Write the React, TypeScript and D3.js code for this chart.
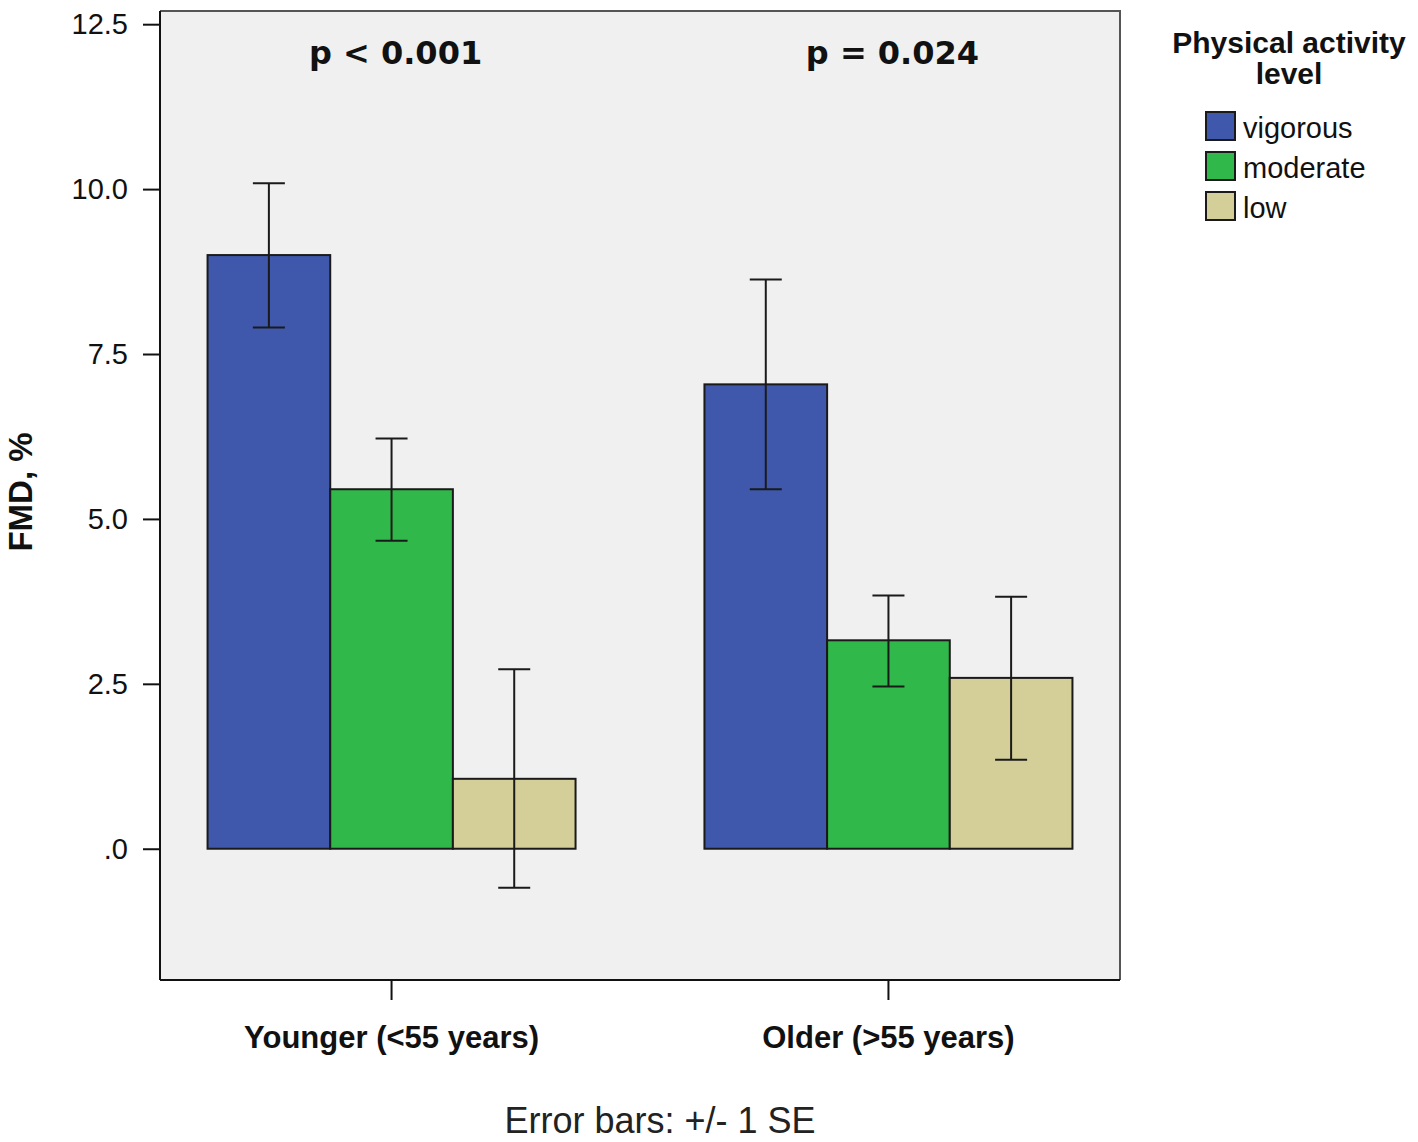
import { useEffect, useRef } from "react"
import * as d3 from "d3"

const groups = ["Younger (<55 years)", "Older (>55 years)"]
const levels = ["vigorous", "moderate", "low"]
const levelColors = ["#3f58ab", "#31b84a", "#d4cf98"]
// mean FMD per group, in level order
const means = [
  [9.0, 5.45, 1.06],
  [7.04, 3.16, 2.59],
]
const seLow = [
  [7.9, 4.67, -0.59],
  [5.45, 2.46, 1.35],
]
const seHigh = [
  [10.09, 6.22, 2.72],
  [8.63, 3.84, 3.82],
]
const pLabels = ["p < 0.001", "p = 0.024"]
const yTicks = [0, 2.5, 5, 7.5, 10, 12.5]
const legendTitle = ["Physical activity", "level"]

const W = 1418
const H = 1142

export default function App() {
  const svgRef = useRef<SVGSVGElement>(null)

  useEffect(() => {
    if (!svgRef.current) return
    const svg = d3.select(svgRef.current)
    svg.selectAll("*").remove()

    const plot = { left: 160, top: 11, right: 1120, bottom: 980 }

    const y = d3.scaleLinear().domain([-1.99, 12.7]).range([plot.bottom, plot.top])
    const x0 = d3
      .scaleBand<string>()
      .domain(groups)
      .range([plot.left, plot.right])
      .paddingInner(0.2)
      .paddingOuter(0.066)
    // bars fill their group
    const groupWidth = 368
    const x1 = d3.scaleBand<string>().domain(levels).range([0, groupWidth])
    const groupCenter = (g: string) => x0(g)! + x0.bandwidth() / 2

    // plot background
    svg
      .append("rect")
      .attr("x", plot.left)
      .attr("y", plot.top)
      .attr("width", plot.right - plot.left)
      .attr("height", plot.bottom - plot.top)
      .attr("fill", "#f0f0f0")

    const g = svg
      .selectAll("g.group")
      .data(groups)
      .enter()
      .append("g")
      .attr("class", "group")
      .attr("transform", (d) => `translate(${groupCenter(d) - groupWidth / 2},0)`)

    g.selectAll("rect")
      .data((d, gi) => levels.map((l, li) => ({ l, li, v: means[gi][li] })))
      .enter()
      .append("rect")
      .attr("x", (d) => x1(d.l)!)
      .attr("width", x1.bandwidth())
      .attr("y", (d) => y(d.v))
      .attr("height", (d) => y(0) - y(d.v))
      .attr("fill", (d) => levelColors[d.li])
      .attr("stroke", "#1a1a1a")
      .attr("stroke-width", 2)

    // error bars
    const cap = 16
    const eb = g
      .selectAll("g.err")
      .data((d, gi) => levels.map((l, li) => ({ l, lo: seLow[gi][li], hi: seHigh[gi][li] })))
      .enter()
      .append("g")
      .attr("class", "err")
      .attr("transform", (d) => `translate(${x1(d.l)! + x1.bandwidth() / 2},0)`)
      .attr("stroke", "#1a1a1a")
      .attr("stroke-width", 2)
    eb.append("line").attr("y1", (d) => y(d.lo)).attr("y2", (d) => y(d.hi))
    eb.append("line").attr("x1", -cap).attr("x2", cap).attr("y1", (d) => y(d.hi)).attr("y2", (d) => y(d.hi))
    eb.append("line").attr("x1", -cap).attr("x2", cap).attr("y1", (d) => y(d.lo)).attr("y2", (d) => y(d.lo))

    // p-values
    svg
      .selectAll("text.p")
      .data(pLabels)
      .enter()
      .append("text")
      .attr("class", "p")
      .attr("x", (d, i) => groupCenter(groups[i]) + 4)
      .attr("y", 64)
      .attr("text-anchor", "middle")
      .attr("font-family", "DejaVu Sans, Verdana, sans-serif")
      .attr("font-weight", "bold")
      .attr("font-size", 32)
      .attr("fill", "#111")
      .text((d) => d)

    // frame: top/right edges
    svg
      .append("path")
      .attr("d", `M${plot.left},${plot.top}H${plot.right}V${plot.bottom}`)
      .attr("fill", "none")
      .attr("stroke", "#555")
      .attr("stroke-width", 2)

    const yAxis = svg
      .append("g")
      .attr("transform", `translate(${plot.left},0)`)
      .call(
        d3
          .axisLeft(y)
          .tickValues(yTicks)
          .tickSize(17)
          .tickPadding(15)
          .tickFormat((d) => (d === 0 ? ".0" : d3.format(".1f")(d as number)))
      )
    yAxis.select(".domain").attr("d", `M0,${plot.top}V${plot.bottom}`).attr("stroke", "#111").attr("stroke-width", 2)
    yAxis.selectAll(".tick line").attr("stroke", "#111").attr("stroke-width", 2)
    yAxis
      .selectAll(".tick text")
      .attr("font-family", "Liberation Sans, Arial, sans-serif")
      .attr("font-size", 29)
      .attr("fill", "#111")

    const xAxis = svg
      .append("g")
      .attr("transform", `translate(0,${plot.bottom})`)
      .call(d3.axisBottom(x0).tickSize(20).tickPadding(26))
    xAxis.select(".domain").attr("d", `M${plot.left},0H${plot.right}`).attr("stroke", "#111").attr("stroke-width", 2)
    xAxis.selectAll(".tick line").attr("stroke", "#111").attr("stroke-width", 2)
    xAxis
      .selectAll(".tick text")
      .attr("font-family", "Liberation Sans, Arial, sans-serif")
      .attr("font-weight", "bold")
      .attr("font-size", 31)
      .attr("fill", "#111")

    // y title
    svg
      .append("text")
      .attr("transform", `translate(32,492) rotate(-90)`)
      .attr("text-anchor", "middle")
      .attr("font-family", "Liberation Sans, Arial, sans-serif")
      .attr("font-weight", "bold")
      .attr("font-size", 33)
      .attr("fill", "#111")
      .text("FMD, %")

    // footnote
    svg
      .append("text")
      .attr("x", 660)
      .attr("y", 1133)
      .attr("text-anchor", "middle")
      .attr("font-family", "Liberation Sans, Arial, sans-serif")
      .attr("font-size", 36)
      .attr("fill", "#222")
      .text("Error bars: +/- 1 SE")

    // legend
    const legend = svg.append("g")
    legend
      .append("text")
      .attr("x", 1289)
      .attr("y", 53)
      .attr("text-anchor", "middle")
      .attr("font-family", "Liberation Sans, Arial, sans-serif")
      .attr("font-weight", "bold")
      .attr("font-size", 30)
      .attr("fill", "#111")
      .selectAll("tspan")
      .data(legendTitle)
      .enter()
      .append("tspan")
      .attr("x", 1289)
      .attr("dy", (d, i) => (i === 0 ? 0 : 31))
      .text((d) => d)

    const item = legend
      .selectAll("g.item")
      .data(levels)
      .enter()
      .append("g")
      .attr("class", "item")
      .attr("transform", (d, i) => `translate(1206,${112 + i * 40})`)
    item
      .append("rect")
      .attr("width", 29)
      .attr("height", 28)
      .attr("fill", (d, i) => levelColors[i])
      .attr("stroke", "#1a1a1a")
      .attr("stroke-width", 2)
    item
      .append("text")
      .attr("x", 37)
      .attr("y", 26)
      .attr("font-family", "Liberation Sans, Arial, sans-serif")
      .attr("font-size", 29)
      .attr("fill", "#111")
      .text((d) => d)
  }, [])

  return (
    <div style={{ position: "absolute", left: 0, top: 0, background: "#fff" }}>
      <svg ref={svgRef} width={W} height={H} style={{ display: "block" }}></svg>
    </div>
  )
}
